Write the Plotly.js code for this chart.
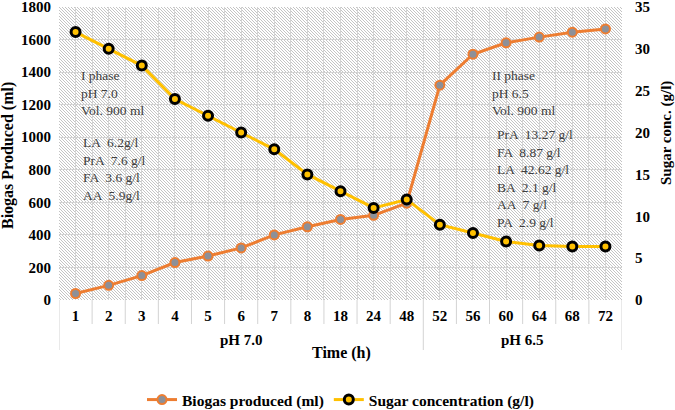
<!DOCTYPE html>
<html>
<head>
<meta charset="utf-8">
<script src="https://cdn.plot.ly/plotly-3.0.1.min.js"></script>
<style>
  html, body { margin: 0; padding: 0; background: #ffffff; }
  #chart { width: 675px; height: 410px; }
</style>
</head>
<body>
<div id="chart"></div>
<script>
// time points (h) on the category axis
var times = ['1', '2', '3', '4', '5', '6', '7', '8', '18', '24', '48', '52', '56', '60', '64', '68', '72'];
var biogas = [40, 90, 150, 230, 270, 320, 400, 450, 495, 520, 595, 1320, 1510, 1580, 1615, 1645, 1665];
var sugar = [32, 30, 28, 24, 22, 20, 18, 15, 13, 11, 12, 9, 8, 7, 6.5, 6.4, 6.4];

// phase groups under the time labels
var phaseLabels = ['pH 7.0', 'pH 6.5'];
var phaseCounts = [11, 6];

var leftTicks = [0, 200, 400, 600, 800, 1000, 1200, 1400, 1600, 1800];
var rightTicks = [0, 5, 10, 15, 20, 25, 30, 35];

var phase1Head = 'I phase<br>pH 7.0<br>Vol. 900 ml';
var phase1Acids = 'LA  6.2g/l<br>PrA  7.6 g/l<br>FA  3.6 g/l<br>AA  5.9g/l';
var phase2Head = 'II phase<br>pH 6.5<br>Vol. 900 ml';
var phase2Acids = 'PrA  13.27 g/l<br>FA  8.87 g/l<br>LA  42.62 g/l<br>BA  2.1 g/l<br>AA  7 g/l<br>PA  2.9 g/l';

var W = 675, H = 410;
var M = { l: 59, r: 53, t: 7, b: 110, autoexpand: false };
var plotH = H - M.t - M.b;
var plotW = W - M.l - M.r;
var serif = 'Liberation Serif, Times New Roman, serif';
var gridColor = '#d3d3d3';

// pixel position -> paper coordinates
function px(x) { return (x - M.l) / plotW; }
function py(y) { return (M.t + plotH - y) / plotH; }

// fine diagonal hatch behind the plot area
var hatch = "<svg xmlns='http://www.w3.org/2000/svg' width='" + plotW + "' height='" + plotH + "' preserveAspectRatio='none'>" +
    "<defs><pattern id='h' width='3' height='3' patternUnits='userSpaceOnUse'>" +
    "<path d='M-1,-1 L4,4 M-1,2 L1,4 M2,-1 L4,1' stroke='#bdbdbd' stroke-width='0.9'/></pattern></defs>" +
    "<rect width='100%' height='100%' fill='white'/><rect width='100%' height='100%' fill='url(#h)'/></svg>";

var traceBiogas = {
    x: times,
    y: biogas,
    type: 'scatter',
    mode: 'lines+markers',
    name: 'Biogas produced (ml)',
    line: { color: '#ED7D31', width: 3 },
    marker: { symbol: 'circle', size: 9, color: '#8d9098', line: { color: '#ED7D31', width: 2 } },
    xaxis: 'x',
    yaxis: 'y'
};

var traceSugar = {
    x: times,
    y: sugar,
    type: 'scatter',
    mode: 'lines+markers',
    name: 'Sugar concentration (g/l)',
    line: { color: '#FFC000', width: 3 },
    marker: { symbol: 'circle', size: 9, color: '#FFC000', line: { color: '#000000', width: 3 } },
    xaxis: 'x2',
    yaxis: 'y2'
};

// separators under the axis: short ones between times, long ones between phases
var shapes = [];
var groupEdges = [-0.5];
phaseCounts.forEach(function (n) { groupEdges.push(groupEdges[groupEdges.length - 1] + n); });
for (var i = 0; i <= times.length; i++) {
    var xb = i - 0.5;
    var isGroup = groupEdges.indexOf(xb) >= 0;
    shapes.push({
        type: 'line', xref: 'x', yref: 'paper',
        x0: xb, x1: xb, y0: 0, y1: -(isGroup ? 50 : 24) / plotH,
        line: { color: gridColor, width: 1 }
    });
}

var boldFont = function (size) { return { family: serif, size: size, color: '#000000', weight: 'bold' }; };

var annotations = [];
phaseLabels.forEach(function (lab, k) {
    annotations.push({
        text: lab, xref: 'x', yref: 'paper',
        x: (groupEdges[k] + groupEdges[k + 1]) / 2, y: py(340),
        showarrow: false, yanchor: 'middle',
        font: boldFont(15)
    });
});

// axis titles
annotations.push({ text: 'Time (h)', xref: 'paper', yref: 'paper', x: px(341), y: py(353),
    showarrow: false, xanchor: 'center', yanchor: 'middle', font: boldFont(16) });
annotations.push({ text: 'Biogas Produced (ml)', xref: 'paper', yref: 'paper', x: px(8), y: py(156),
    showarrow: false, textangle: -90, xanchor: 'center', yanchor: 'middle', font: boldFont(16) });
annotations.push({ text: 'Sugar conc. (g/l)', xref: 'paper', yref: 'paper', x: px(666), y: py(133),
    showarrow: false, textangle: -90, xanchor: 'center', yanchor: 'middle', font: boldFont(15) });

function note(text, x, y) {
    return {
        text: text, xref: 'paper', yref: 'paper',
        x: px(x), y: py(y),
        xanchor: 'left', yanchor: 'middle', align: 'left', showarrow: false,
        font: { family: serif, size: 13.5, color: '#404040' }
    };
}
annotations.push(note(phase1Head, 79, 93));
annotations.push(note(phase1Acids, 81, 169.5));
annotations.push(note(phase2Head, 490, 93));
annotations.push(note(phase2Acids, 495, 178));

var tickFont = boldFont(15);

var layout = {
    width: W,
    height: H,
    margin: M,
    paper_bgcolor: '#ffffff',
    plot_bgcolor: 'rgba(0,0,0,0)',
    showlegend: true,
    legend: {
        orientation: 'h', x: 0.5, xanchor: 'center', xref: 'paper',
        y: py(400), yanchor: 'middle',
        font: boldFont(15.5)
    },
    images: [{
        source: 'data:image/svg+xml;charset=utf-8,' + encodeURIComponent(hatch),
        xref: 'paper', yref: 'paper', x: 0, y: 1, sizex: 1, sizey: 1,
        xanchor: 'left', yanchor: 'top', sizing: 'stretch', layer: 'below'
    }],
    xaxis: {
        type: 'category',
        categoryorder: 'array',
        categoryarray: times,
        range: [-0.5, times.length - 0.5],
        tickson: 'boundaries',
        ticks: '',
        showgrid: true,
        gridcolor: gridColor,
        gridwidth: 1,
        showline: false,
        zeroline: false,
        ticklabelstandoff: 5,
        ticklabeloverflow: 'allow',
        tickfont: tickFont
    },
    xaxis2: {
        type: 'category',
        categoryorder: 'array',
        categoryarray: times,
        range: [-0.5, times.length - 0.5],
        overlaying: 'x',
        anchor: 'y2',
        showgrid: true,
        gridcolor: gridColor,
        gridwidth: 1,
        showticklabels: false,
        ticks: '',
        showline: false,
        zeroline: false
    },
    yaxis: {
        range: [0, 1800],
        tickvals: leftTicks,
        ticks: '',
        showgrid: true,
        gridcolor: gridColor,
        gridwidth: 1,
        showline: false,
        zeroline: false,
        ticklabelstandoff: 7,
        ticklabeloverflow: 'allow',
        tickfont: tickFont
    },
    yaxis2: {
        range: [0, 35],
        tickvals: rightTicks,
        overlaying: 'y',
        side: 'right',
        anchor: 'x2',
        ticks: '',
        showgrid: false,
        showline: false,
        zeroline: false,
        ticklabelstandoff: 12,
        ticklabeloverflow: 'allow',
        tickfont: tickFont
    },
    shapes: shapes,
    annotations: annotations
};

Plotly.newPlot('chart', [traceBiogas, traceSugar], layout, { displayModeBar: false, staticPlot: true });
</script>
</body>
</html>
